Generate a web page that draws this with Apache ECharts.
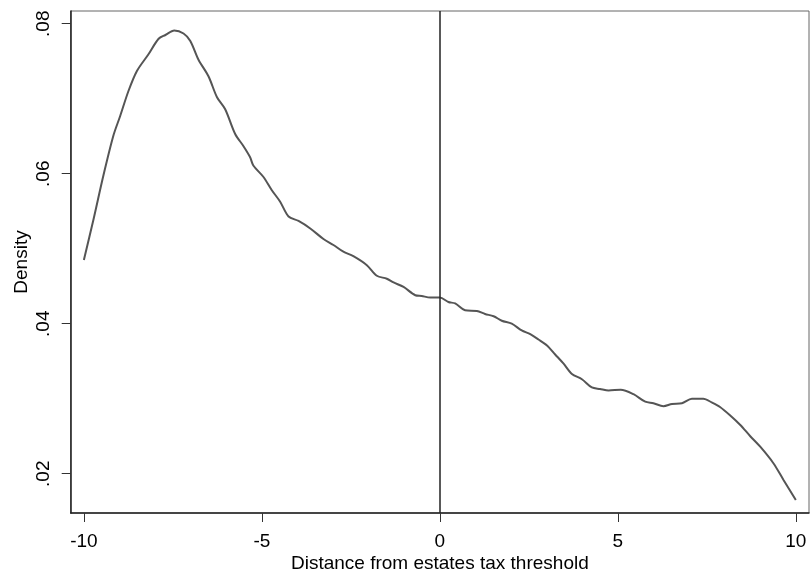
<!DOCTYPE html>
<html>
<head>
<meta charset="utf-8">
<script src="https://cdn.jsdelivr.net/npm/echarts@6/dist/echarts.min.js"></script>
<style>html,body{margin:0;padding:0;background:#fff}#c{width:811px;height:578px}</style>
</head>
<body>
<div id="c"></div>
<script>
var xValues = [-10.0, -9.73, -9.45, -9.17, -8.98, -8.75, -8.51, -8.19, -7.90, -7.71, -7.46, -7.20, -7.01, -6.78, -6.50, -6.26, -6.03, -5.75, -5.52, -5.33, -5.24, -4.96, -4.72, -4.49, -4.25, -3.97, -3.64, -3.27, -2.99, -2.71, -2.43, -2.05, -1.77, -1.49, -1.30, -1.02, -0.69, -0.51, -0.27, 0.0, 0.24, 0.43, 0.71, 1.04, 1.27, 1.51, 1.74, 2.02, 2.30, 2.54, 2.77, 3.01, 3.24, 3.47, 3.71, 3.99, 4.27, 4.50, 4.74, 5.08, 5.44, 5.77, 6.00, 6.28, 6.52, 6.80, 7.08, 7.40, 7.64, 7.87, 8.15, 8.44, 8.72, 9.00, 9.37, 9.65, 10.0];
var densityValues = [0.0485, 0.0539, 0.0598, 0.0651, 0.0677, 0.0710, 0.0737, 0.0759, 0.0780, 0.0785, 0.0791, 0.0787, 0.0777, 0.0752, 0.0730, 0.0702, 0.0686, 0.0653, 0.0637, 0.0622, 0.0611, 0.0596, 0.0578, 0.0563, 0.0543, 0.0537, 0.0527, 0.0513, 0.0505, 0.0496, 0.0490, 0.0478, 0.0464, 0.0460, 0.0455, 0.0449, 0.0438, 0.0437, 0.0435, 0.0435, 0.0429, 0.0427, 0.0418, 0.0417, 0.0413, 0.0410, 0.0404, 0.0400, 0.0391, 0.0386, 0.0379, 0.0371, 0.0359, 0.0347, 0.0333, 0.0326, 0.0315, 0.0313, 0.0311, 0.0312, 0.0306, 0.0296, 0.0294, 0.0290, 0.0293, 0.0294, 0.0300, 0.0300, 0.0295, 0.0289, 0.0278, 0.0265, 0.0250, 0.0236, 0.0214, 0.0192, 0.0165];
var xTicks = [-10, -5, 0, 5, 10];
var yTicks = [0.02, 0.04, 0.06, 0.08];
var yTickLabels = ['.02', '.04', '.06', '.08'];
var thresholdX = 0;

var pts = xValues.map(function (x, i) { return [x, densityValues[i]]; });
var chart = echarts.init(document.getElementById('c'), null, {renderer: 'canvas'});
var font = 'Liberation Sans, Arial, sans-serif';
chart.setOption({
  animation: false,
  backgroundColor: '#fff',
  grid: {left: 70.7, top: 11, right: 2, bottom: 60.7, show: true, borderColor: '#666', borderWidth: 1, backgroundColor: '#fff'},
  xAxis: {
    type: 'value', min: -10.37, max: 10.37,
    name: 'Distance from estates tax threshold', nameLocation: 'middle', nameGap: 41, nameMoveOverlap: false,
    nameTextStyle: {fontFamily: font, fontSize: 19, color: '#000'},
    axisLine: {show: true, onZero: false, lineStyle: {color: '#222', width: 1.5}},
    axisTick: {show: true, length: 9, customValues: xTicks, lineStyle: {color: '#333', width: 1}},
    axisLabel: {customValues: xTicks, margin: 19, fontFamily: font, fontSize: 19, color: '#000',
      formatter: function (v) { return String(v); }},
    splitLine: {show: false}
  },
  yAxis: {
    type: 'value', min: 0.01476, max: 0.0817,
    name: 'Density', nameLocation: 'middle', nameGap: 39, nameRotate: 90, nameMoveOverlap: false,
    nameTextStyle: {fontFamily: font, fontSize: 19, color: '#000'},
    axisLine: {show: true, onZero: false, lineStyle: {color: '#222', width: 1.5}},
    axisTick: {show: true, length: 9, customValues: yTicks, lineStyle: {color: '#333', width: 1}},
    axisLabel: {customValues: yTicks, rotate: 90, margin: 17, fontFamily: font, fontSize: 19, color: '#000',
      formatter: function (v) { var i = yTicks.findIndex(function (t) { return Math.abs(t - v) < 1e-9; }); return i >= 0 ? yTickLabels[i] : ''; }},
    splitLine: {show: false}
  },
  series: [{
    type: 'line', data: pts, showSymbol: false, smooth: 0.3,
    lineStyle: {color: '#555', width: 2},
    markLine: {
      silent: true, symbol: ['none', 'none'], label: {show: false},
      lineStyle: {color: '#222', width: 1.5, type: 'solid'},
      data: [{xAxis: thresholdX}]
    }
  }]
});
</script>
</body>
</html>
